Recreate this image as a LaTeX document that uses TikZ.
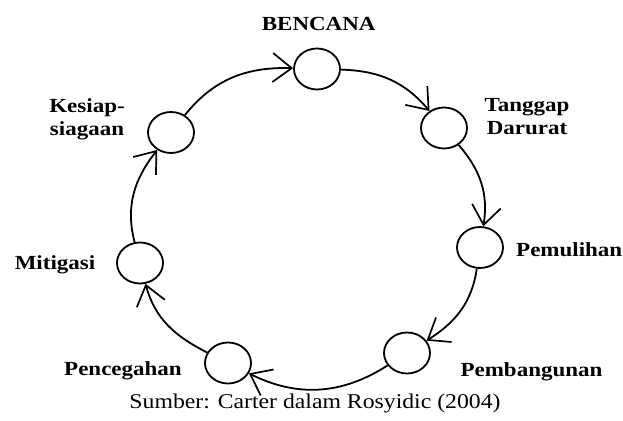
\documentclass[tikz,border=0pt]{standalone}
\usepackage{fontspec}
\setmainfont{Liberation Serif}
\newfontfamily\lblfont[FakeStretch=1.15]{Liberation Serif}
\newfontfamily\srcfont[FakeStretch=1.13]{Liberation Serif}
\usetikzlibrary{arrows.meta,shapes.geometric}
\tikzset{
  stage/.style={draw, ellipse, line width=1.8pt, minimum width=46pt, minimum height=41pt, inner sep=0pt},
  lbl/.style={inner sep=0pt, font=\lblfont\bfseries\fontsize{20}{23}\selectfont, align=center},
  arr/.style={line width=1.8pt, -{Straight Barb[length=19pt,width=29pt,line width=1.7pt]}},
}
\begin{document}
\begin{tikzpicture}[x=1pt,y=1pt]
\useasboundingbox (0,0) rectangle (623,420);
% stages
\node[stage] (B)  at (317,351) {};
\node[stage] (T)  at (444,292) {};
\node[stage] (P)  at (480,172.5) {};
\node[stage] (Pb) at (407,67) {};
\node[stage] (Pc) at (228,57) {};
\node[stage] (M)  at (140,157) {};
\node[stage] (K)  at (171,287.5) {};
% labels
\node[lbl, anchor=base] (lB) at (318.7,389.3) {BENCANA};
\node[lbl, anchor=base] (lT) at (527,285.7) {Tanggap\\Darurat};
\node[lbl, anchor=base west] (lP) at (516,163.3) {Pemulihan};
\node[lbl, anchor=base] (lPb) at (531.5,43) {Pembangunan};
\node[lbl, anchor=base] (lPc) at (123,45) {Pencegahan};
\node[lbl, anchor=base] (lM) at (55,150.7) {Mitigasi};
\node[lbl, anchor=base] (lK) at (87,284) {Kesiap-\\siagaan};
% source
\node[inner sep=0pt, anchor=base, font=\srcfont\fontsize{21}{24}\selectfont] (src) at (315,12) {Sumber: Carter dalam Rosyidic (2004)};
% cycle
\draw[arr] (B)  to[out=-1.8,in=130.7] (T);
\draw[arr] (T)  to[out=-49.3,in=81.1] (P);
\draw[arr] (P)  to[out=-98.9,in=32.5] (Pb);
\draw[arr] (Pb) to[out=-147.5,in=-26.6] (Pc);
\draw[arr] (Pc) to[out=153.4,in=-75.1] (M);
\draw[arr] (M)  to[out=104.9,in=-128.4] (K);
\draw[arr] (K)  to[out=51.6,in=178.2] (B);
\end{tikzpicture}
\end{document}
